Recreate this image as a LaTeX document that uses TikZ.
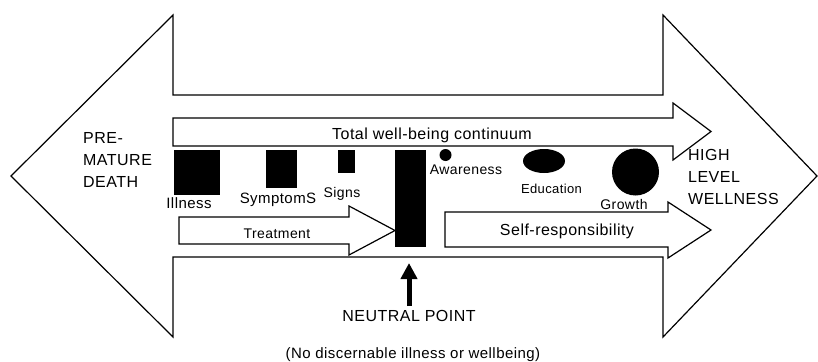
\documentclass[tikz,border=0pt]{standalone}
\usepackage{fontspec}
\setmainfont{Liberation Sans}[LetterSpace=3]
\usetikzlibrary{arrows.meta,positioning}

\tikzset{
  outline/.style={draw, line width=1.2pt, line join=miter},
  bigtxt/.style={font=\fontsize{16}{22}\selectfont, inner sep=0pt},
  midtxt/.style={font=\fontsize{15}{18}\selectfont, inner sep=0pt},
  smalltxt/.style={font=\fontsize{14}{17}\selectfont, inner sep=0pt}
}

\begin{document}
\begin{tikzpicture}[x=1pt,y=-1pt]
	\useasboundingbox (0,0) rectangle (818,361);

	% big double arrow
	\draw[outline] (11,176) -- (173,15) -- (173,95) -- (663,95) -- (663,15) -- (817,176)
		-- (663,337) -- (663,257) -- (173,257) -- (173,337) -- cycle;

	% inner block arrows
	\draw[outline] (173,118) -- (673,118) -- (673,103) -- (711,131.5) -- (673,160) -- (673,146) -- (173,146) -- cycle;
	\draw[outline] (179,217) -- (349,217) -- (349,206) -- (395,230.5) -- (349,255) -- (349,244) -- (179,244) -- cycle;
	\draw[outline] (445,212) -- (668,212) -- (668,202) -- (711,230) -- (668,258) -- (668,247) -- (445,247) -- cycle;

	% black marks
	\fill (174,150) rectangle (220,195);
	\fill (266,150) rectangle (297,188);
	\fill (338,150) rectangle (355,173);
	\fill (395,150) rectangle (426,247);
	\fill (445.5,155) circle (6);
	\fill (544,161) ellipse (21 and 12);
	\fill (635.5,172) circle (23.5);

	\node[bigtxt, anchor=base] (total) at (432,139) {Total well-being continuum};
	\node[smalltxt, anchor=base] (treat) at (277,238) {Treatment};
	\node[bigtxt, anchor=base] (selfresp) at (567,235) {Self-responsibility};

	\node[midtxt, anchor=base] (illness) at (189,208) {Illness};
	\node[midtxt, anchor=base] (symptoms) at (278,203) {SymptomS};
	\node[smalltxt, anchor=base] (signs) at (342,197) {Signs};
	\node[smalltxt, anchor=base] (aware) at (466,174) {Awareness};
	\node[font=\fontsize{13}{16}\selectfont, inner sep=0pt, anchor=base] (educ) at (551.5,193) {Education};
	\node[smalltxt, anchor=base] (growth) at (624,209) {Growth};

	\node[bigtxt, anchor=north west, align=left] (death) at (83,132) {PRE-\\MATURE\\DEATH};
	\node[bigtxt, anchor=north west, align=left] (wellness) at (688,149) {HIGH\\LEVEL\\WELLNESS};

	\node[bigtxt, anchor=base] (neutral) at (409,321.5) {NEUTRAL POINT};
	\node[midtxt, anchor=base] (nodisc) at (413,358) {(No discernable illness or wellbeing)};

	\coordinate (ntip) at (409,263);
	\draw[line width=5pt, -{Triangle[width=16pt,length=16pt]}] ([yshift=4pt]neutral.north) -- (ntip);
\end{tikzpicture}
\end{document}
